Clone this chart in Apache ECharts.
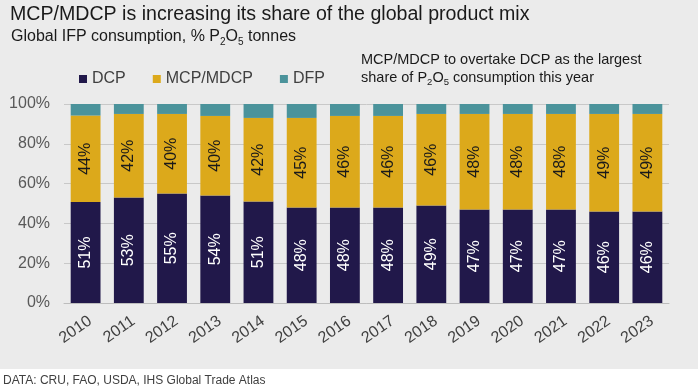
<!DOCTYPE html>
<html>
<head>
<meta charset="utf-8">
<script src="https://cdn.jsdelivr.net/npm/echarts@6/dist/echarts.min.js"></script>
<style>
html,body{margin:0;padding:0;background:#ebebeb;}
#chart{width:698px;height:388px;}
</style>
</head>
<body>
<div id="chart"></div>
<script>
var years = ['2010','2011','2012','2013','2014','2015','2016','2017','2018','2019','2020','2021','2022','2023'];
var dcp  = [50.7, 53, 55, 54, 51, 48, 48, 48, 49, 47, 47, 47, 46, 46];
var mcp  = [43.5, 42, 40, 40, 42, 45, 46, 46, 46, 48, 48, 48, 49, 49];
var dfp  = [5.8, 5, 5, 6, 7, 7, 6, 6, 5, 5, 5, 5, 5, 5];
var yTicks = [0, 20, 40, 60, 80, 100];

var FONT = 'Liberation Sans, Arial, sans-serif';
var chart = echarts.init(document.getElementById('chart'));
var subRich = { s: { fontSize: 10, verticalAlign: 'bottom', lineHeight: 20, fontFamily: FONT, color: '#1a1a1a' } };

chart.setOption({
  backgroundColor: '#ebebeb',
  animation: false,
  textStyle: { fontFamily: FONT },
  title: [
    { text: 'MCP/MDCP is increasing its share of the global product mix', left: 10, top: 5, padding: 0,
      textStyle: { fontSize: 19.6, fontWeight: 'normal', color: '#1a1a1a', fontFamily: FONT } },
    { text: 'Global IFP consumption, % P{s|2}O{s|5} tonnes', left: 11, top: 27, padding: 0,
      textStyle: { fontSize: 16, lineHeight: 20, fontWeight: 'normal', color: '#1a1a1a', fontFamily: FONT, rich: subRich } },
    { text: 'MCP/MDCP to overtake DCP as the largest\nshare of P{s2|2}O{s2|5} consumption this year', left: 361, top: 51, padding: 0,
      textStyle: { fontSize: 14.5, lineHeight: 18, fontWeight: 'normal', color: '#1a1a1a', fontFamily: FONT,
        rich: { s2: { fontSize: 9.5, verticalAlign: 'bottom', lineHeight: 18, fontFamily: FONT, color: '#1a1a1a' } } } }
  ],
  legend: {
    left: 79, top: 71, itemWidth: 8, itemHeight: 8, itemGap: 27, padding: 0,
    icon: 'rect',
    textStyle: { fontSize: 16, color: '#404040', fontFamily: FONT },
    data: ['DCP', 'MCP/MDCP', 'DFP']
  },
  grid: { left: 64, right: 29, top: 104, bottom: 85, containLabel: false },
  xAxis: {
    type: 'category', data: years,
    axisTick: { show: false },
    axisLine: { show: true, lineStyle: { color: '#bdbdbd', width: 1 } },
    axisLabel: { rotate: 35, margin: 10, verticalAlign: 'top', fontSize: 16, color: '#404040', fontFamily: FONT }
  },
  yAxis: {
    type: 'value', min: yTicks[0], max: yTicks[yTicks.length - 1], interval: yTicks[1] - yTicks[0],
    axisLine: { show: false }, axisTick: { show: false },
    splitLine: { lineStyle: { color: '#c8c8c8', width: 1 } },
    axisLabel: { formatter: '{value}%', margin: 14, fontSize: 16, color: '#595959', fontFamily: FONT }
  },
  graphic: [
    { type: 'rect', left: 0, top: 369, shape: { width: 698, height: 19 }, style: { fill: '#ffffff' }, silent: true },
    { type: 'text', left: 3, top: 375, style: { text: 'DATA: CRU, FAO, USDA, IHS Global Trade Atlas', fontSize: 12, fill: '#404040', fontFamily: FONT } }
  ],
  series: [
    { name: 'DCP', type: 'bar', stack: 'a', data: dcp, barWidth: '69%',
      itemStyle: { color: '#21184a' },
      label: { show: true, position: 'inside', rotate: 90, fontSize: 16, color: '#ffffff', fontFamily: FONT,
        formatter: function (p) { return Math.round(p.value) + '%'; } } },
    { name: 'MCP/MDCP', type: 'bar', stack: 'a', data: mcp,
      itemStyle: { color: '#dca91b' },
      label: { show: true, position: 'inside', rotate: 90, fontSize: 16, color: '#1a1a1a', fontFamily: FONT,
        formatter: function (p) { return Math.round(p.value) + '%'; } } },
    { name: 'DFP', type: 'bar', stack: 'a', data: dfp,
      itemStyle: { color: '#4b939b' } }
  ]
});
</script>
</body>
</html>
